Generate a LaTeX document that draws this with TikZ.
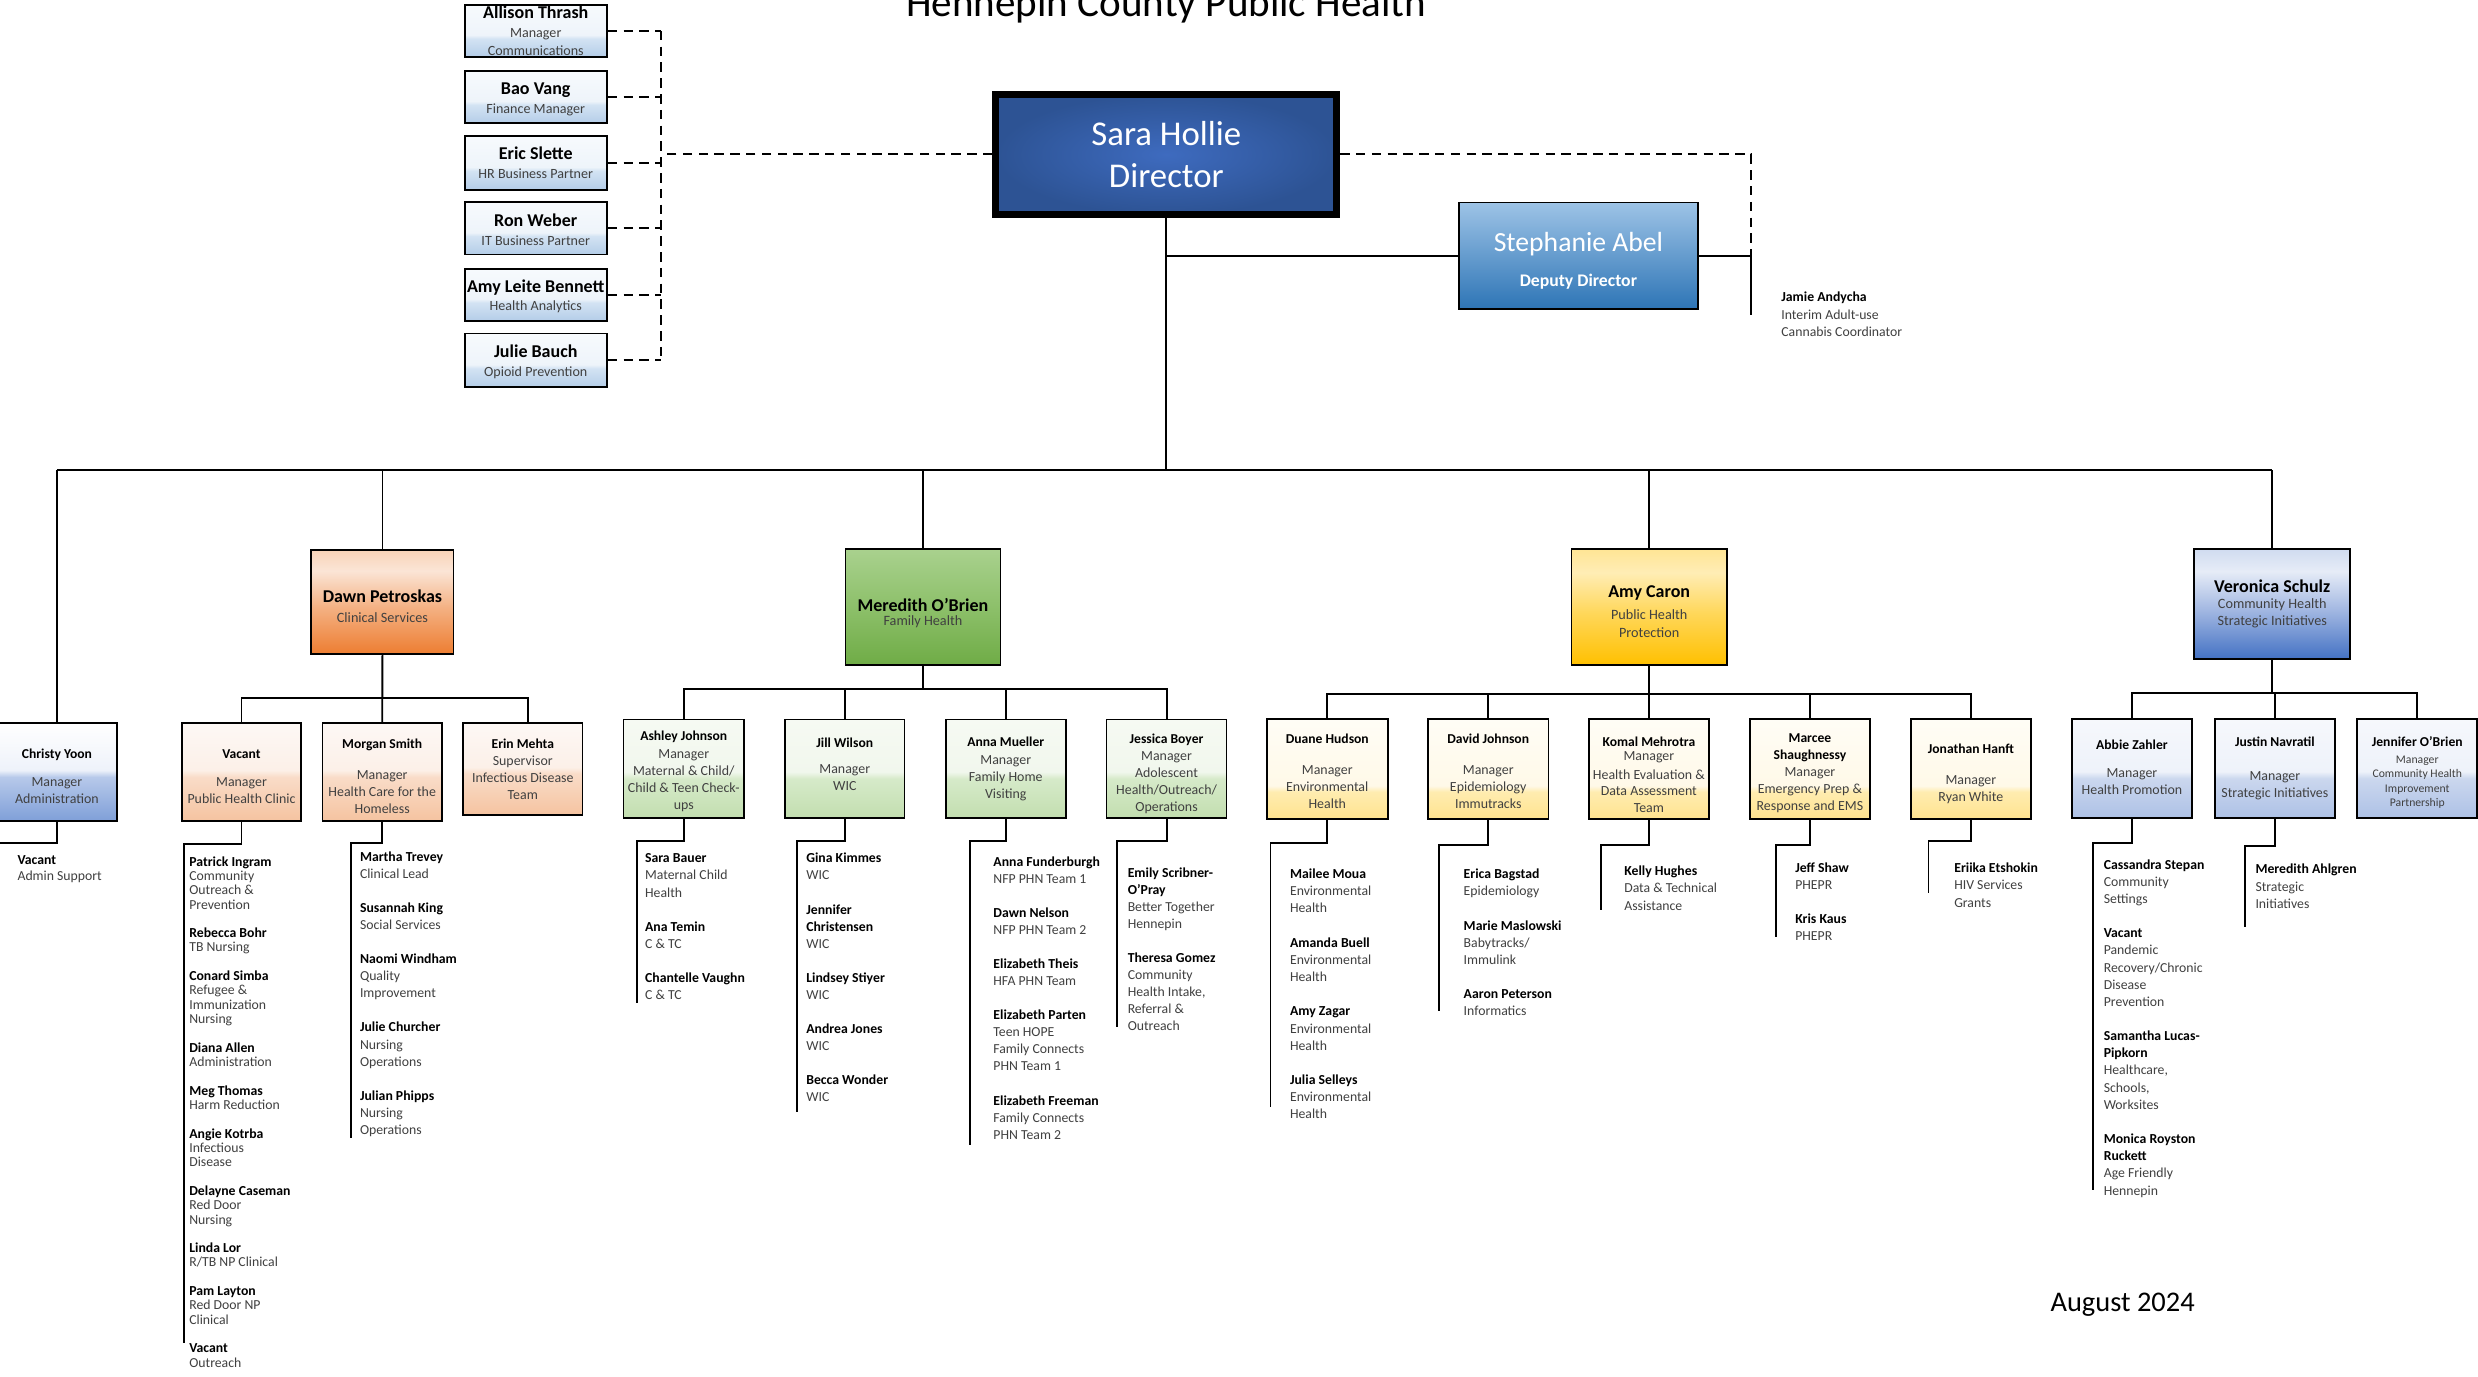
\documentclass[tikz,border=0pt]{standalone}
\usepackage{fontspec}
\setmainfont{Carlito}
\usetikzlibrary{calc}

\definecolor{subgray}{HTML}{404040}
\definecolor{stB}{HTML}{B4CDE8}\definecolor{stM}{HTML}{D3E3F3}\definecolor{stL}{HTML}{EEF4FA}\definecolor{stT}{HTML}{F7FAFD}
\definecolor{moB}{HTML}{F5C3A0}\definecolor{moM}{HTML}{F9DCC8}\definecolor{moL}{HTML}{FCF0E8}\definecolor{moT}{HTML}{FDF8F5}
\definecolor{mcB}{HTML}{7F9FD8}\definecolor{mcM}{HTML}{B7C9EA}\definecolor{mcL}{HTML}{EEF2FA}\definecolor{mcT}{HTML}{FFFFFF}
\definecolor{mgB}{HTML}{C2DEAF}\definecolor{mgM}{HTML}{D6EAC9}\definecolor{mgL}{HTML}{F1F7ED}\definecolor{mgT}{HTML}{F6FAF3}
\definecolor{myB}{HTML}{FFE38F}\definecolor{myM}{HTML}{FFECB0}\definecolor{myL}{HTML}{FFF9E8}\definecolor{myT}{HTML}{FFFDF6}
\definecolor{mbB}{HTML}{ADC1E6}\definecolor{mbM}{HTML}{CBD7EE}\definecolor{mbL}{HTML}{EEF2FA}\definecolor{mbT}{HTML}{F6F8FC}
\definecolor{dB}{HTML}{ED7D31}\definecolor{dM}{HTML}{F4B183}\definecolor{dL}{HTML}{FBE5D6}\definecolor{dT}{HTML}{F8D3B8}
\definecolor{gB}{HTML}{6FAC46}\definecolor{gM}{HTML}{8DC06A}\definecolor{gT}{HTML}{A9D18E}
\definecolor{yB}{HTML}{FFC000}\definecolor{yM}{HTML}{FFD75A}\definecolor{yL}{HTML}{FFEDB5}\definecolor{yT}{HTML}{FFE595}
\definecolor{vB}{HTML}{4472C4}\definecolor{vM}{HTML}{A3B8E2}\definecolor{vL}{HTML}{E6ECF7}\definecolor{vT}{HTML}{D0DCF0}
\definecolor{depT}{HTML}{9DC3E6}\definecolor{depB}{HTML}{2E75B6}
\definecolor{dirIn}{HTML}{3E6BBF}\definecolor{dirOut}{HTML}{2D5394}

\pgfdeclareverticalshading{shStaff}{100bp}{color(0bp)=(stB); color(25bp)=(stB); color(42.5bp)=(stM); color(46bp)=(stL); color(75bp)=(stT); color(100bp)=(stT)}
\pgfdeclareverticalshading{shMgrO}{100bp}{color(0bp)=(moB); color(25bp)=(moB); color(47.5bp)=(moM); color(51bp)=(moL); color(75bp)=(moT); color(100bp)=(moT)}
\pgfdeclareverticalshading{shMgrC}{100bp}{color(0bp)=(mcB); color(25bp)=(mcB); color(47.5bp)=(mcM); color(51bp)=(mcL); color(75bp)=(mcT); color(100bp)=(mcT)}
\pgfdeclareverticalshading{shMgrG}{100bp}{color(0bp)=(mgB); color(25bp)=(mgB); color(45bp)=(mgM); color(48.5bp)=(mgL); color(75bp)=(mgT); color(100bp)=(mgT)}
\pgfdeclareverticalshading{shMgrY}{100bp}{color(0bp)=(myB); color(25bp)=(myB); color(38.5bp)=(myM); color(41.5bp)=(myL); color(75bp)=(myT); color(100bp)=(myT)}
\pgfdeclareverticalshading{shMgrB}{100bp}{color(0bp)=(mbB); color(25bp)=(mbB); color(45bp)=(mbM); color(48.5bp)=(mbL); color(75bp)=(mbT); color(100bp)=(mbT)}
\pgfdeclareverticalshading{shDawn}{100bp}{color(0bp)=(dB); color(25bp)=(dB); color(47.5bp)=(dM); color(65bp)=(dL); color(75bp)=(dT); color(100bp)=(dT)}
\pgfdeclareverticalshading{shMer}{100bp}{color(0bp)=(gB); color(25bp)=(gB); color(50bp)=(gM); color(75bp)=(gT); color(100bp)=(gT)}
\pgfdeclareverticalshading{shAmy}{100bp}{color(0bp)=(yB); color(25bp)=(yB); color(47.5bp)=(yM); color(65bp)=(yL); color(75bp)=(yT); color(100bp)=(yT)}
\pgfdeclareverticalshading{shVer}{100bp}{color(0bp)=(vB); color(25bp)=(vB); color(47.5bp)=(vM); color(65bp)=(vL); color(75bp)=(vT); color(100bp)=(vT)}
\pgfdeclareverticalshading{shDep}{100bp}{color(0bp)=(depB); color(25bp)=(depB); color(75bp)=(depT); color(100bp)=(depT)}

\newcommand\bignm[1]{{\color{black}\fontsize{11.4}{12}\selectfont\bfseries #1}}
\newcommand\smnm[1]{{\color{black}\fontsize{8.6}{10}\selectfont\bfseries #1}}
\newcommand\lnm[1]{{\color{black}\bfseries #1}}
\newcommand\fst[1]{\rule{0pt}{#1pt}}
\newcommand\lst[1]{\rule[-#1pt]{0pt}{0pt}}
\newcommand\orgbox[7]{\node[box,#6,minimum width={(#4)-(#2)},minimum height={(#5)-(#3)}] (#1) at ({((#2)+(#4))/2},{((#3)+(#5))/2}) {#7};}
\newcommand\pplist[5]{\def\lgap{#4pt}\node[listtxt,font=\fontsize{8.7}{#4}\selectfont,anchor=north west] (#1) at (#2,{#3+2.8-0.7*#4}) {\strut#5};}

\tikzset{
  box/.style={draw=black,line width=1.1pt,inner sep=0pt,align=center,rectangle},
  staffbox/.style={box,shading=shStaff,font=\fontsize{8.9}{12}\selectfont,text=subgray},
  divbox/.style={box,font=\fontsize{9}{11}\selectfont,text=subgray},
  mgrbox/.style={box,font=\fontsize{8.8}{10.7}\selectfont,text=subgray},
  listtxt/.style={align=left,inner sep=0pt,text=subgray},
  conn/.style={line width=1.2pt,draw=black},
  dconn/.style={line width=1.2pt,draw=black,dash pattern=on 6pt off 4pt},
}

\begin{document}
\begin{tikzpicture}[x=1pt,y=-1pt]
\fill[white] (0,0) rectangle (1568,871);
\useasboundingbox (0,0) rectangle (1568,871);

\node[font=\fontsize{26}{30}\selectfont,anchor=base] (title) at (738,10.5) {Hennepin County Public Health};
\node[font=\fontsize{18}{21}\selectfont,anchor=base west] (date) at (1294,830) {August 2024};

% staff
\orgbox{allison}{294}{3}{384}{36}{staffbox,font=\fontsize{8.9}{11.5}\selectfont}{\bignm{Allison Thrash}\\ Manager\\ Communications}
\orgbox{bao}{294}{44.7}{384}{78}{staffbox}{\fst{10}\bignm{Bao Vang}\\ Finance Manager}
\orgbox{eric}{294}{86}{384}{120}{staffbox}{\bignm{Eric Slette}\\ HR Business Partner}
\orgbox{ron}{294}{128}{384}{161}{staffbox}{\fst{10}\bignm{Ron Weber}\\ IT Business Partner}
\orgbox{amyb}{294}{170}{384}{203}{staffbox}{\fst{10}\bignm{Amy Leite Bennett}\\ Health Analytics}
\orgbox{julie}{294}{211}{384}{245}{staffbox}{\fst{10}\bignm{Julie Bauch}\\ Opioid Prevention}

% director, deputy
\orgbox{dir}{630.15}{59.55}{845.85}{135.85}{line width=4.3pt,inner color=dirIn,outer color=dirOut,font=\fontsize{22}{27}\selectfont,text=white}{Sara Hollie\\ Director}
\orgbox{dep}{923}{128.2}{1074.5}{195.3}{shading=shDep,font=\fontsize{11.2}{13}\selectfont\bfseries,text=white}{\fst{18.3}{\fontsize{17.5}{20}\selectfont\mdseries Stephanie Abel}\\[9pt] Deputy Director}

% divisions
\orgbox{dawn}{197}{348}{287}{414}{divbox,shading=shDawn}{\fst{13}\bignm{Dawn Petroskas}\\[2pt] Clinical Services}
\orgbox{mer}{535}{347.4}{633}{420.8}{divbox,shading=shMer}{\fst{16}\bignm{Meredith O’Brien}\\[-2pt] Family Health}
\orgbox{amy}{994.3}{347.6}{1092.8}{420.8}{divbox,shading=shAmy}{\fst{13}\bignm{Amy Caron}\\[3pt] Public Health\\ Protection}
\orgbox{ver}{1388.4}{347.6}{1487.2}{416.8}{divbox,shading=shVer}{\bignm{Veronica Schulz}\\[-1pt] Community Health\\ Strategic Initiatives}

% managers
\orgbox{christy}{-2}{457.6}{74}{519.5}{mgrbox,shading=shMgrC}{\fst{11}\smnm{Christy Yoon}\\[7pt] Manager\\ Administration}
\orgbox{vac}{115}{457.6}{190.6}{519.5}{mgrbox,shading=shMgrO}{\fst{11}\smnm{Vacant}\\[7pt] Manager\\ Public Health Clinic}
\orgbox{morgan}{204}{457.6}{279.7}{519.5}{mgrbox,shading=shMgrO}{\fst{11}\smnm{Morgan Smith}\\[9pt] Manager\\ Health Care for the\\ Homeless}
\orgbox{erin}{293}{457.6}{368.6}{515.7}{mgrbox,shading=shMgrO}{\smnm{Erin Mehta}\\ Supervisor\\ Infectious Disease\\ Team}
\orgbox{ashley}{394.6}{455.2}{470.7}{517.8}{mgrbox,shading=shMgrG}{\fst{9}\smnm{Ashley Johnson}\\[1pt] Manager\\ Maternal \& Child/\\ Child \& Teen Check-\\ ups}
\orgbox{jill}{496.7}{455.2}{572.4}{517.8}{mgrbox,shading=shMgrG}{\smnm{Jill Wilson}\\[6pt] Manager\\ WIC\lst{6}}
\orgbox{annam}{598.5}{455.2}{674.3}{517.8}{mgrbox,shading=shMgrG}{\smnm{Anna Mueller}\\[1pt] Manager\\ Family Home\\ Visiting}
\orgbox{jessica}{700.2}{455.2}{776.1}{517.8}{mgrbox,shading=shMgrG}{\fst{12}\smnm{Jessica Boyer}\\ Manager\\ Adolescent\\ Health/Outreach/\\ Operations}
\orgbox{duane}{801.6}{455}{878.1}{518}{mgrbox,shading=shMgrY}{\fst{9}\smnm{Duane Hudson}\\[9pt] Manager\\ Environmental\\ Health}
\orgbox{davidj}{903.6}{455}{979.8}{518}{mgrbox,shading=shMgrY}{\fst{9}\smnm{David Johnson}\\[9pt] Manager\\ Epidemiology\\ Immutracks}
\orgbox{komal}{1005.3}{455}{1081.4}{518}{mgrbox,shading=shMgrY}{\fst{14}\smnm{Komal Mehrotra}\\[-2pt] Manager\\[1pt] Health Evaluation \&\\ Data Assessment\\ Team}
\orgbox{marcee}{1107.3}{455}{1183.2}{518}{mgrbox,shading=shMgrY}{\fst{11}\smnm{Marcee}\\ \smnm{Shaughnessy}\\ Manager\\ Emergency Prep \&\\ Response and EMS}
\orgbox{jonathan}{1209.2}{455}{1285}{518}{mgrbox,shading=shMgrY}{\fst{12}\smnm{Jonathan Hanft}\\[9pt] Manager\\ Ryan White}
\orgbox{abbie}{1311}{455}{1387}{517.6}{mgrbox,shading=shMgrB}{\smnm{Abbie Zahler}\\[7pt] Manager\\ Health Promotion\lst{2}}
\orgbox{justin}{1401.4}{455}{1477.5}{517.6}{mgrbox,shading=shMgrB}{\smnm{Justin Navratil}\\[11pt] Manager\\ Strategic Initiatives}
\orgbox{jennifer}{1491.6}{455}{1567.5}{517.6}{mgrbox,shading=shMgrB,font=\fontsize{7.4}{9}\selectfont}{\fst{11}\smnm{Jennifer O’Brien}\\[2pt] Manager\\ Community Health\\ Improvement\\ Partnership}

% lists
\pplist{jamieL}{1127}{188}{11}{\lnm{Jamie Andycha}\\ Interim Adult-use\\ Cannabis Coordinator}
\pplist{christyL}{10.9}{544}{10}{\lnm{Vacant}\\ Admin Support}
\pplist{vacL}{119.6}{545}{9.06}{\lnm{Patrick Ingram}\\ Community\\ Outreach \&\\ Prevention\\[\lgap]
 \lnm{Rebecca Bohr}\\ TB Nursing\\[\lgap]
 \lnm{Conard Simba}\\ Refugee \&\\ Immunization\\ Nursing\\[\lgap]
 \lnm{Diana Allen}\\ Administration\\[\lgap]
 \lnm{Meg Thomas}\\ Harm Reduction\\[\lgap]
 \lnm{Angie Kotrba}\\ Infectious\\ Disease\\[\lgap]
 \lnm{Delayne Caseman}\\ Red Door\\ Nursing\\[\lgap]
 \lnm{Linda Lor}\\ R/TB NP Clinical\\[\lgap]
 \lnm{Pam Layton}\\ Red Door NP\\ Clinical\\[\lgap]
 \lnm{Vacant}\\ Outreach}
\pplist{morganL}{227.6}{542}{10.8}{\lnm{Martha Trevey}\\ Clinical Lead\\[\lgap]
 \lnm{Susannah King}\\ Social Services\\[\lgap]
 \lnm{Naomi Windham}\\ Quality\\ Improvement\\[\lgap]
 \lnm{Julie Churcher}\\ Nursing\\ Operations\\[\lgap]
 \lnm{Julian Phipps}\\ Nursing\\ Operations}
\pplist{ashleyL}{408}{543}{10.8}{\lnm{Sara Bauer}\\ Maternal Child\\ Health\\[\lgap]
 \lnm{Ana Temin}\\ C \& TC\\[\lgap]
 \lnm{Chantelle Vaughn}\\ C \& TC}
\pplist{jillL}{510}{543}{10.8}{\lnm{Gina Kimmes}\\ WIC\\[\lgap]
 \lnm{Jennifer}\\ \lnm{Christensen}\\ WIC\\[\lgap]
 \lnm{Lindsey Stiyer}\\ WIC\\[\lgap]
 \lnm{Andrea Jones}\\ WIC\\[\lgap]
 \lnm{Becca Wonder}\\ WIC}
\pplist{annamL}{628.4}{545}{10.8}{\lnm{Anna Funderburgh}\\ NFP PHN Team 1\\[\lgap]
 \lnm{Dawn Nelson}\\ NFP PHN Team 2\\[\lgap]
 \lnm{Elizabeth Theis}\\ HFA PHN Team\\[\lgap]
 \lnm{Elizabeth Parten}\\ Teen HOPE\\ Family Connects\\ PHN Team 1\\[\lgap]
 \lnm{Elizabeth Freeman}\\ Family Connects\\ PHN Team 2}
\pplist{jessicaL}{713.4}{552}{10.8}{\lnm{Emily Scribner-}\\ \lnm{O’Pray}\\ Better Together\\ Hennepin\\[\lgap]
 \lnm{Theresa Gomez}\\ Community\\ Health Intake,\\ Referral \&\\ Outreach}
\pplist{duaneL}{816.1}{553}{10.85}{\lnm{Mailee Moua}\\ Environmental\\ Health\\[\lgap]
 \lnm{Amanda Buell}\\ Environmental\\ Health\\[\lgap]
 \lnm{Amy Zagar}\\ Environmental\\ Health\\[\lgap]
 \lnm{Julia Selleys}\\ Environmental\\ Health}
\pplist{davidjL}{926}{553}{10.85}{\lnm{Erica Bagstad}\\ Epidemiology\\[\lgap]
 \lnm{Marie Maslowski}\\ Babytracks/\\ Immulink\\[\lgap]
 \lnm{Aaron Peterson}\\ Informatics}
\pplist{komalL}{1027.6}{551}{11}{\lnm{Kelly Hughes}\\ Data \& Technical\\ Assistance}
\pplist{marceeL}{1135.8}{549}{10.8}{\lnm{Jeff Shaw}\\ PHEPR\\[\lgap]
 \lnm{Kris Kaus}\\ PHEPR}
\pplist{jonathanL}{1236.4}{549}{11}{\lnm{Eriika Etshokin}\\ HIV Services\\ Grants}
\pplist{abbieL}{1331}{547}{10.85}{\lnm{Cassandra Stepan}\\ Community\\ Settings\\[\lgap]
 \lnm{Vacant}\\ Pandemic\\ Recovery/Chronic\\ Disease\\ Prevention\\[\lgap]
 \lnm{Samantha Lucas-}\\ \lnm{Pipkorn}\\ Healthcare,\\ Schools,\\ Worksites\\[\lgap]
 \lnm{Monica Royston}\\ \lnm{Ruckett}\\ Age Friendly\\ Hennepin}
\pplist{justinL}{1427}{550}{10.8}{\lnm{Meredith Ahlgren}\\ Strategic\\ Initiatives}

% ---------- connectors ----------
\coordinate (busL) at (36,297.4);
\coordinate (sv) at (418.5,0);
\coordinate (jamB) at (1108,199);

\draw[dconn] (allison.east -| sv) -- (julie.east -| sv);
\foreach \n in {allison,bao,eric,ron,amyb,julie}{\draw[dconn] (\n.east) -- (\n.east -| sv);}
\draw[dconn] (dir.west) -- (dir.west -| sv);

\draw[conn] (dir.south) -- (dir.south |- busL);
\draw[conn] (dir.south |- dep.west) -- (dep.west);
\draw[conn] (dep.east) -- (dep.east -| jamB) -- (jamB);
\draw[dconn] (dir.east) -- (dir.east -| jamB) -- (dep.east -| jamB);

\draw[conn] (christy.north |- busL) -- (ver.north |- busL);
\foreach \n in {christy,dawn,mer,amy,ver}{\draw[conn] (\n.north |- busL) -- (\n.north);}

\coordinate (dawnbus) at (0,441.5);
\draw[conn] (dawn.south) -- (morgan.north);
\draw[conn] (vac.north) |- ([xshift=3.4pt]erin.north |- dawnbus) -- ([xshift=3.4pt]erin.north);
\coordinate (merbus) at (0,436.2);
\draw[conn] (mer.south) -- (mer.south |- merbus);
\draw[conn] (ashley.north) |- (jessica.north |- merbus) -- (jessica.north);
\foreach \n in {jill,annam}{\draw[conn] (\n.north |- merbus) -- (\n.north);}
\coordinate (amybus) at (0,439);
\draw[conn] (amy.south) -- (amy.south |- amybus);
\draw[conn] (duane.north) |- (jonathan.north |- amybus) -- (jonathan.north);
\foreach \n in {davidj,komal,marcee}{\draw[conn] (\n.north |- amybus) -- (\n.north);}
\coordinate (verbus) at (0,438.7);
\draw[conn] (ver.south) -- (ver.south |- verbus);
\draw[conn] (abbie.north) |- (jennifer.north |- verbus) -- (jennifer.north);
\draw[conn] (justin.north |- verbus) -- (justin.north);

\coordinate (christyE) at (-2,532.6);
\coordinate (vacE) at (116.2,850);
\coordinate (morganE) at (222,720);
\coordinate (ashleyE) at (403.3,634.9);
\coordinate (jillE) at (504.5,703.4);
\coordinate (annamE) at (613.8,724.5);
\coordinate (jessicaE) at (707,649.6);
\coordinate (duaneE) at (803.9,700.2);
\coordinate (davidjE) at (910.4,639.5);
\coordinate (komalE) at (1013,575.8);
\coordinate (marceeE) at (1124,592.7);
\coordinate (jonathanE) at (1220.3,564.8);
\coordinate (abbieE) at (1324.6,753);
\coordinate (justinE) at (1420.5,586.4);
\draw[conn] (christy.south) -- ++(0,13.1) -| (christyE);
\draw[conn] (vac.south) -- ++(0,14) -| (vacE);
\draw[conn] (morgan.south) -- ++(0,13.1) -| (morganE);
\draw[conn] (ashley.south) -- ++(0,13.7) -| (ashleyE);
\draw[conn] (jill.south) -- ++(0,13.7) -| (jillE);
\draw[conn] (annam.south) -- ++(0,13.7) -| (annamE);
\draw[conn] (jessica.south) -- ++(0,13.7) -| (jessicaE);
\draw[conn] (duane.south) -- ++(0,14.6) -| (duaneE);
\draw[conn] (davidj.south) -- ++(0,16) -| (davidjE);
\draw[conn] (komal.south) -- ++(0,16) -| (komalE);
\draw[conn] (marcee.south) -- ++(0,16) -| (marceeE);
\draw[conn] (jonathan.south) -- ++(0,13.5) -| (jonathanE);
\draw[conn] (abbie.south) -- ++(0,15) -| (abbieE);
\draw[conn] (justin.south) -- ++(0,17) -| (justinE);
\end{tikzpicture}
\end{document}
